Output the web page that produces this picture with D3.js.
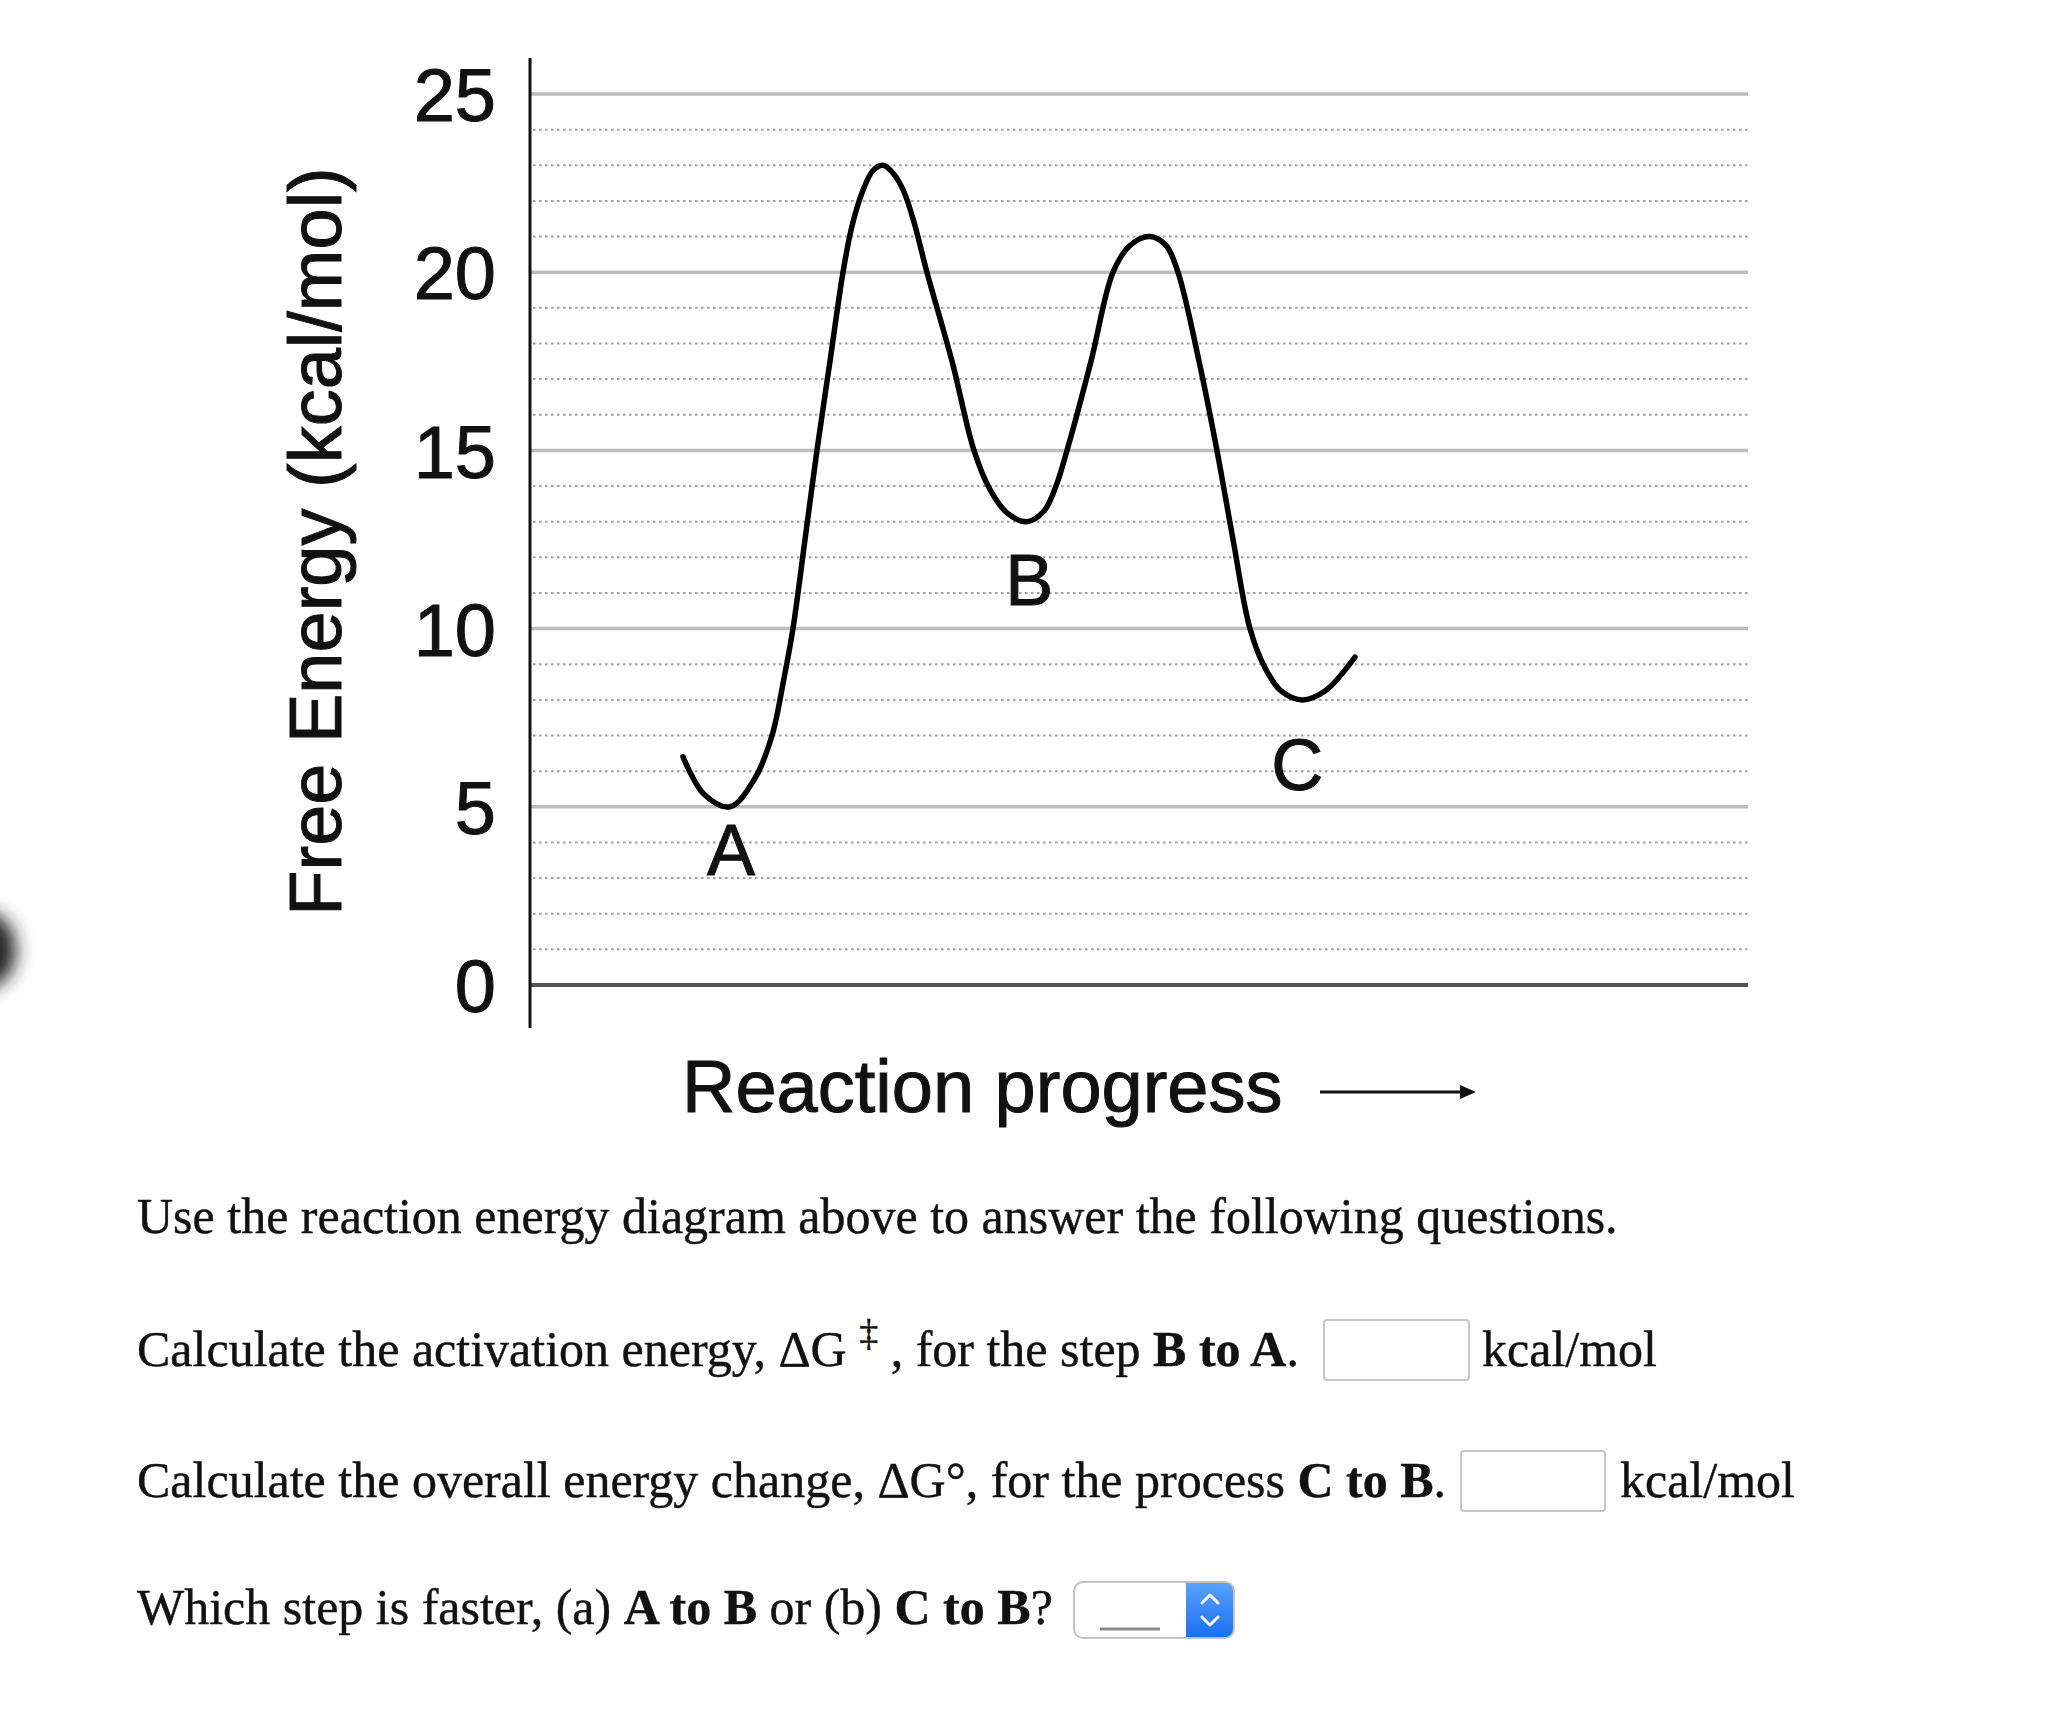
<!DOCTYPE html>
<html>
<head>
<meta charset="utf-8">
<script src="https://cdn.jsdelivr.net/npm/d3@7"></script>
<style>
  html, body { margin: 0; padding: 0; background: #fff; }
  svg { display: block; }
</style>
</head>
<body>
<svg id="chart" width="2046" height="1715"></svg>
<script>
// ---------- data ----------
const majorTicks = [0, 5, 10, 15, 20, 25];
const minorTicks = [1, 2, 3, 4, 6, 7, 8, 9, 11, 12, 13, 14, 16, 17, 18, 19, 21, 22, 23, 24];
const progress = [12.56, 14.29, 16.42, 18.47, 19.87, 20.85, 21.59, 22.58, 23.56, 24.63, 25.70, 26.44, 27.34, 28.16, 28.98,
                  29.88, 30.71, 31.53, 32.59, 34.65, 36.45, 37.77, 39.16, 40.80, 42.20, 43.19, 44.09, 46.06, 47.87,
                  49.26, 50.90, 52.22, 53.20, 54.93, 56.40, 57.72, 59.11, 60.34, 61.66, 63.38, 65.27, 67.73];
const energy   = [6.4, 5.35, 5.0, 5.8, 7.0, 8.6, 10, 12.5, 15, 17.5, 20, 21.3, 22.3, 22.85, 23,
                  22.75, 22.25, 21.4, 20, 17.5, 15, 13.9, 13.25, 13, 13.3, 14.0, 15, 17.5, 20,
                  20.75, 21, 20.75, 20, 17.5, 15, 12.5, 10, 8.9, 8.25, 8.0, 8.25, 9.2];
const stateNames = ["A", "B", "C"];
const stateLabelProgress = [16.5, 41.0, 63.0];
const stateLabelEnergy = [3.8, 11.4, 6.2];
const yTitle = "Free Energy (kcal/mol)";
const xTitle = "Reaction progress";

// ---------- scales ----------
const svg = d3.select("#chart");
const x = d3.scaleLinear().domain([0, 100]).range([530, 1748]);
const y = d3.scaleLinear().domain([0, 25]).range([985, 94]);
const sans = "'Liberation Sans', Arial, sans-serif";

// artifact blob on the left edge
const defs = svg.append("defs");
defs.append("filter").attr("id", "blur").attr("x", "-100%").attr("y", "-100%").attr("width", "300%").attr("height", "300%")
  .append("feGaussianBlur").attr("stdDeviation", 9);
svg.append("ellipse").attr("cx", -14).attr("cy", 950).attr("rx", 30).attr("ry", 38)
  .attr("fill", "#222").attr("filter", "url(#blur)");

// minor dotted gridlines
svg.append("g").selectAll("line").data(minorTicks).join("line")
  .attr("x1", x(0) + 3).attr("x2", x(100))
  .attr("y1", d => y(d)).attr("y2", d => y(d))
  .attr("stroke", "#a0a0a0").attr("stroke-width", 2).attr("stroke-dasharray", "2.5,3.5");

// major gridlines
svg.append("g").selectAll("line").data(majorTicks).join("line")
  .attr("x1", x(0)).attr("x2", x(100))
  .attr("y1", d => y(d)).attr("y2", d => y(d))
  .attr("stroke", d => d === 0 ? "#555" : "#bdbdbd")
  .attr("stroke-width", d => d === 0 ? 4 : 3.5);

// y axis line
svg.append("line").attr("x1", x(0)).attr("x2", x(0)).attr("y1", 58).attr("y2", 1028)
  .attr("stroke", "#111").attr("stroke-width", 3);

// y tick labels via d3 axis
const yAxis = d3.axisLeft(y).tickValues(majorTicks).tickSize(0).tickPadding(34).tickFormat(d3.format("d"));
const yg = svg.append("g").attr("transform", `translate(${x(0)},0)`).call(yAxis);
yg.select(".domain").remove();
yg.selectAll("text").attr("font-family", sans)
  .attr("font-size", 74).attr("fill", "#111").attr("stroke", "#111").attr("stroke-width", 1).attr("dy", "0.36em");

// y title
svg.append("text")
  .attr("transform", `translate(341, ${(163 + 920) / 2}) rotate(-90)`)
  .attr("text-anchor", "middle")
  .attr("font-family", sans)
  .attr("font-size", 74).attr("fill", "#111").attr("stroke", "#111").attr("stroke-width", 1)
  .text(yTitle);

// x title + arrow
svg.append("text").attr("x", 682).attr("y", 1112)
  .attr("font-family", sans)
  .attr("font-size", 74).attr("fill", "#111").attr("stroke", "#111").attr("stroke-width", 1)
  .text(xTitle);
svg.append("line").attr("x1", 1320).attr("x2", 1462).attr("y1", 1092).attr("y2", 1092)
  .attr("stroke", "#111").attr("stroke-width", 3);
svg.append("path").attr("d", "M1476,1092 L1460,1085 L1460,1099 Z").attr("fill", "#111");

// energy curve
const pts = progress.map((p, i) => [p, energy[i]]);
const line = d3.line().x(d => x(d[0])).y(d => y(d[1])).curve(d3.curveCatmullRom.alpha(0.5));
svg.append("path").attr("d", line(pts))
  .attr("fill", "none").attr("stroke", "#000").attr("stroke-width", 5.5)
  .attr("stroke-linecap", "round").attr("stroke-linejoin", "round");

// state labels
svg.append("g").selectAll("text").data(stateNames).join("text")
  .attr("x", (d, i) => x(stateLabelProgress[i]))
  .attr("y", (d, i) => y(stateLabelEnergy[i]))
  .attr("dy", "0.36em")
  .attr("text-anchor", "middle")
  .attr("font-family", sans)
  .attr("font-size", 72).attr("fill", "#111").attr("stroke", "#111").attr("stroke-width", 1)
  .text(d => d);

// ---------- questions ----------
const serif = "'Liberation Serif', 'Times New Roman', serif";
const fs = 50;
const q = svg.append("g").attr("font-family", serif).attr("font-size", fs).attr("fill", "#111")
  .attr("stroke", "#111").attr("stroke-width", 0.4);

q.append("text").attr("x", 137).attr("y", 1233)
  .text("Use the reaction energy diagram above to answer the following questions.");

const t2 = q.append("text").attr("x", 137).attr("y", 1366);
t2.append("tspan").text("Calculate the activation energy, \u0394G ");
t2.append("tspan").attr("dy", -20).attr("font-size", 38).text("\u2021");
t2.append("tspan").attr("dy", 20).text(" , for the step ");
t2.append("tspan").attr("font-weight", "bold").text("B to A");
t2.append("tspan").text(".");

const t3 = q.append("text").attr("x", 137).attr("y", 1497);
t3.append("tspan").text("Calculate the overall energy change, \u0394G\u00B0, for the process ");
t3.append("tspan").attr("font-weight", "bold").text("C to B");
t3.append("tspan").text(".");

const t4 = q.append("text").attr("x", 137).attr("y", 1624);
t4.append("tspan").text("Which step is faster, (a) ");
t4.append("tspan").attr("font-weight", "bold").text("A to B");
t4.append("tspan").text(" or (b) ");
t4.append("tspan").attr("font-weight", "bold").text("C to B");
t4.append("tspan").text("?");

// input boxes
const boxes = [{x: 1324, y: 1320, w: 145, h: 60, unitX: 1482, unitY: 1366},
               {x: 1461, y: 1451, w: 144, h: 60, unitX: 1620, unitY: 1497}];
boxes.forEach(b => {
  svg.append("rect").attr("x", b.x).attr("y", b.y).attr("width", b.w).attr("height", b.h)
    .attr("rx", 3).attr("fill", "#fff").attr("stroke", "#c8c8c8").attr("stroke-width", 2);
  q.append("text").attr("x", b.unitX).attr("y", b.unitY).text("kcal/mol");
});

// select control
const grad = defs.append("linearGradient").attr("id", "blue").attr("x1", 0).attr("x2", 0).attr("y1", 0).attr("y2", 1);
grad.append("stop").attr("offset", "0%").attr("stop-color", "#5aa2fb");
grad.append("stop").attr("offset", "100%").attr("stop-color", "#1a6ff2");
const sx = 1074, sy = 1582, sw = 160, sh = 56;
svg.append("clipPath").attr("id", "selclip").append("rect")
  .attr("x", sx).attr("y", sy).attr("width", sw).attr("height", sh).attr("rx", 9);
svg.append("rect").attr("x", sx).attr("y", sy).attr("width", sw).attr("height", sh).attr("rx", 9)
  .attr("fill", "#fff");
svg.append("rect").attr("x", 1186).attr("y", sy).attr("width", sx + sw - 1186).attr("height", sh)
  .attr("fill", "url(#blue)").attr("clip-path", "url(#selclip)");
svg.append("rect").attr("x", sx).attr("y", sy).attr("width", sw).attr("height", sh).attr("rx", 9)
  .attr("fill", "none").attr("stroke", "#c4c4c4").attr("stroke-width", 2);
svg.append("line").attr("x1", 1100).attr("x2", 1160).attr("y1", 1629).attr("y2", 1629)
  .attr("stroke", "#888").attr("stroke-width", 3);
svg.append("path").attr("d", "M1202,1603 L1210,1595 L1218,1603 M1202,1617 L1210,1625 L1218,1617")
  .attr("fill", "none").attr("stroke", "#fff").attr("stroke-width", 3)
  .attr("stroke-linecap", "round").attr("stroke-linejoin", "round");
</script>
</body>
</html>
